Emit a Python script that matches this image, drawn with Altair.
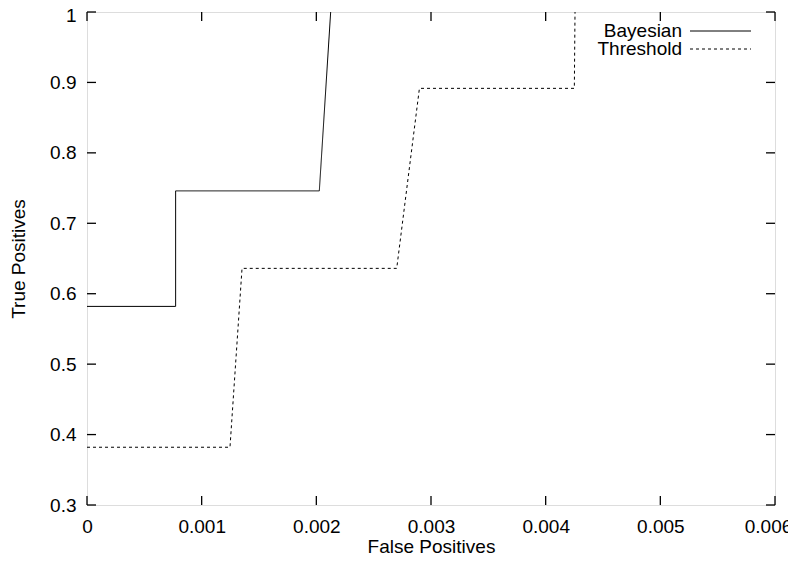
import altair as alt
import pandas as pd

# ---- data ----
bayes_x = [0.0, 0.000773, 0.000773, 0.002026, 0.002125]
bayes_y = [0.582, 0.582, 0.746, 0.746, 1.0]
thr_x = [0.0, 0.001247, 0.001352, 0.002701, 0.002899, 0.00425, 0.004256]
thr_y = [0.382, 0.382, 0.636, 0.636, 0.8916, 0.8916, 1.0]
series_names = ["Bayesian", "Threshold"]
x_ticks = [0.0, 0.001, 0.002, 0.003, 0.004, 0.005, 0.006]
y_ticks = [0.3, 0.4, 0.5, 0.6, 0.7, 0.8, 0.9, 1.0]

W, H = 688, 493
FONT = "Liberation Sans"
FS = 19
TICK = 9

rows = []
for i, (x, y) in enumerate(zip(bayes_x, bayes_y)):
    rows.append({"series": series_names[0], "fp": x, "tp": y, "i": i})
for i, (x, y) in enumerate(zip(thr_x, thr_y)):
    rows.append({"series": series_names[1], "fp": x, "tp": y, "i": i})
df = pd.DataFrame(rows)

xscale = alt.Scale(domain=[0, 0.006], nice=False, zero=False)
yscale = alt.Scale(domain=[0.3, 1.0], nice=False, zero=False)

xaxis = alt.Axis(values=x_ticks, format="~g", title="False Positives", grid=False,
                 ticks=False, tickSize=0, domain=False, labelPadding=12,
                 labelOffset={"condition": {"test": "abs(datum.value - 0.006) < 1e-9", "value": -7}, "value": 0},
                 labelFont=FONT, labelFontSize=FS, labelColor="black",
                 titleFont=FONT, titleFontSize=FS, titleFontWeight="normal",
                 titleColor="black", titleY=47, titleBaseline="alphabetic",
                 labelFlush=False)
yaxis = alt.Axis(values=y_ticks, format="~g", title="True Positives", grid=False,
                 ticks=False, tickSize=0, domain=False, labelPadding=11,
                 labelOffset={"condition": {"test": "abs(datum.value - 1) < 1e-9", "value": 3}, "value": 0},
                 labelFont=FONT, labelFontSize=FS, labelColor="black",
                 titleFont=FONT, titleFontSize=FS, titleFontWeight="normal",
                 titleColor="black", titlePadding=21, labelFlush=False)

lines = alt.Chart(df).mark_line(color="black", strokeWidth=1, clip=True).encode(
    x=alt.X("fp:Q", scale=xscale, axis=xaxis),
    y=alt.Y("tp:Q", scale=yscale, axis=yaxis),
    detail="series:N",
    order="i:Q",
    strokeDash=alt.StrokeDash("series:N", scale=alt.Scale(domain=series_names,
                              range=[[1, 0], [3, 3]]), legend=None),
)

xt = pd.DataFrame({"v": x_ticks})
yt = pd.DataFrame({"v": y_ticks})
tick_style = dict(color="black", strokeWidth=1.3)
bottom = alt.Chart(xt).mark_rule(**tick_style).encode(
    x=alt.X("v:Q", scale=xscale), y=alt.value(H), y2=alt.value(H - TICK))
top = alt.Chart(xt).mark_rule(**tick_style).encode(
    x=alt.X("v:Q", scale=xscale), y=alt.value(0), y2=alt.value(TICK))
left = alt.Chart(yt).mark_rule(**tick_style).encode(
    y=alt.Y("v:Q", scale=yscale), x=alt.value(0), x2=alt.value(TICK))
right = alt.Chart(yt).mark_rule(**tick_style).encode(
    y=alt.Y("v:Q", scale=yscale), x=alt.value(W), x2=alt.value(W - TICK))

leg = pd.DataFrame({"name": series_names, "py": [19, 37]})
leg_text = alt.Chart(leg).mark_text(align="right", baseline="middle", font=FONT,
                                    fontSize=FS, color="black").encode(
    text="name:N", x=alt.value(595), y=alt.Y("py:Q", scale=None))
leg_line = alt.Chart(leg).mark_rule(color="black", strokeWidth=1).encode(
    x=alt.value(603), x2=alt.value(664), y=alt.Y("py:Q", scale=None),
    strokeDash=alt.StrokeDash("name:N", scale=alt.Scale(domain=series_names,
                              range=[[1, 0], [3, 3]]), legend=None))

chart = alt.layer(lines, bottom, top, left, right, leg_line, leg_text).properties(
    width=W, height=H,
    autosize=alt.AutoSizeParams(type="none"),
    padding={"left": 79, "top": 4, "right": 13, "bottom": 48},
).configure_view(stroke="black", strokeWidth=1.5).configure(background="white")

chart.save("out.html", embed_options={"renderer": "svg", "actions": False})
